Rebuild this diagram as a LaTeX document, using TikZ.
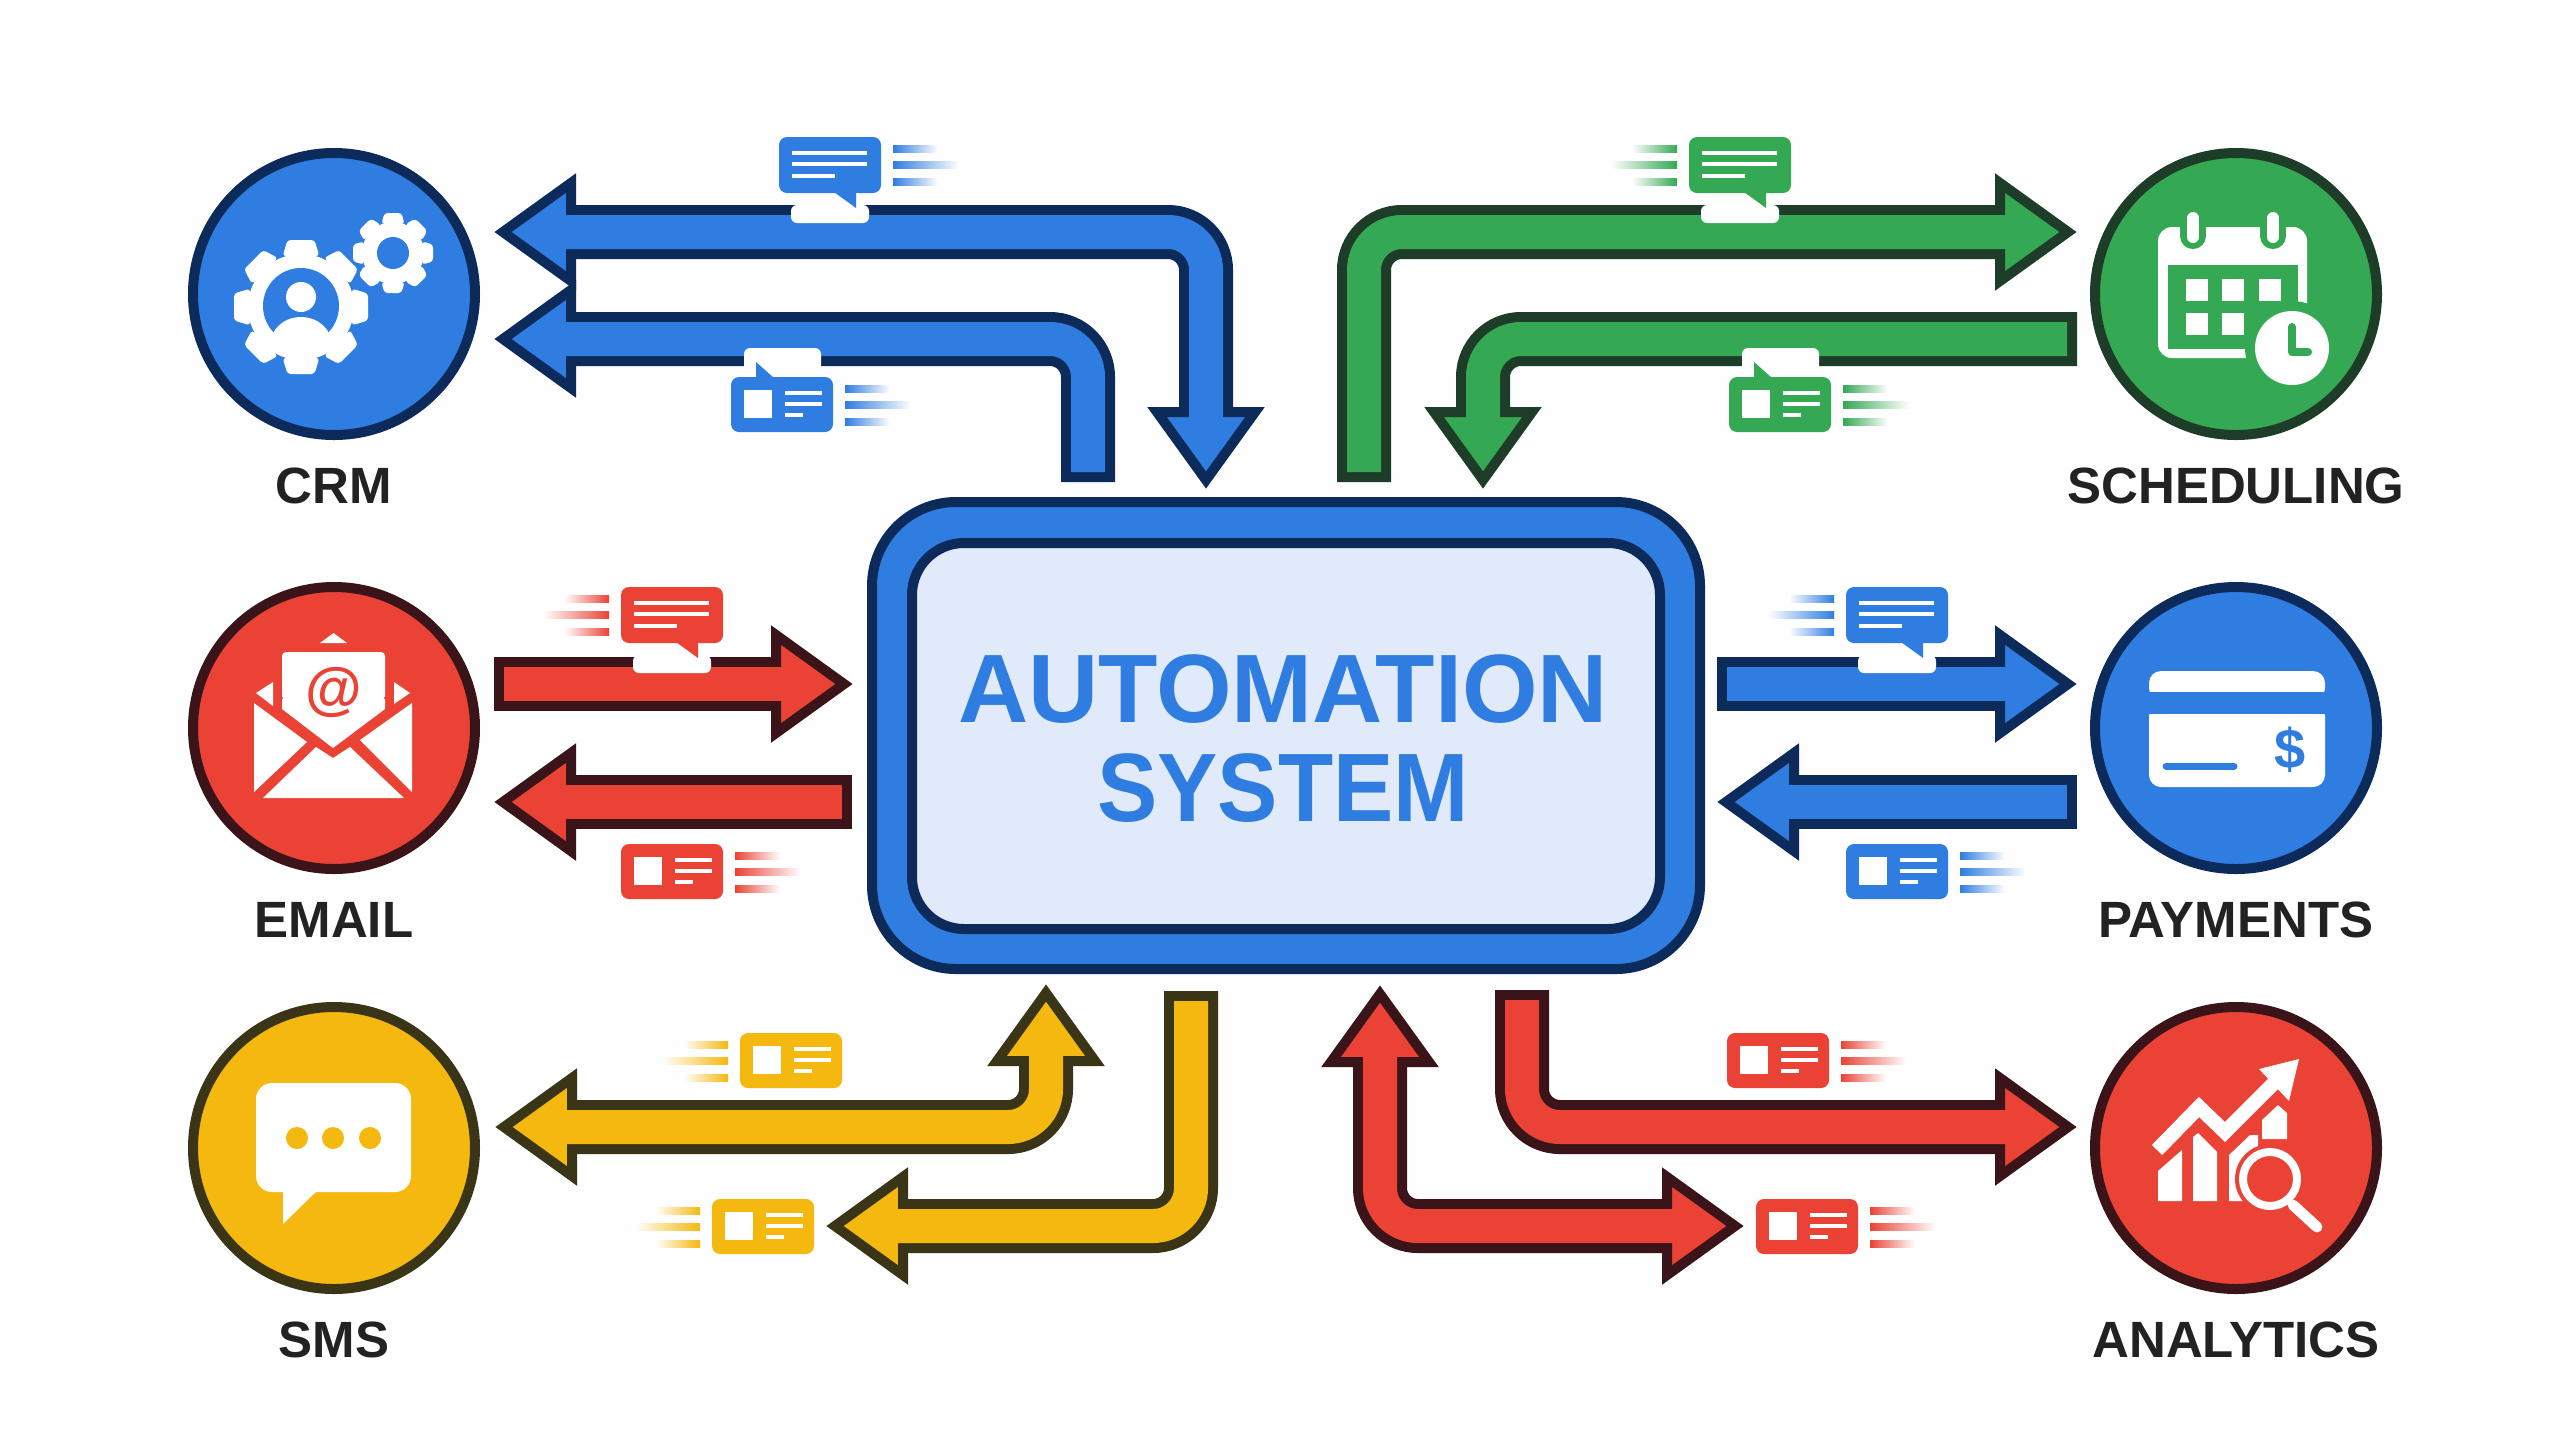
\documentclass[tikz,border=0pt]{standalone}
\usepackage{fontspec}
\setmainfont{Liberation Sans}
\usetikzlibrary{calc}
\definecolor{bgc}{HTML}{FEFEFE}
\definecolor{bF}{HTML}{2F7DE1}\definecolor{bD}{HTML}{0C2A5A}
\definecolor{gF}{HTML}{34A853}\definecolor{gD}{HTML}{1E3D28}
\definecolor{rF}{HTML}{EA4335}\definecolor{rD}{HTML}{3A1418}
\definecolor{yF}{HTML}{F5B80E}\definecolor{yD}{HTML}{3B3518}
\definecolor{lightF}{HTML}{E1EAFA}
\definecolor{ink}{HTML}{222222}
\tikzset{
  hub/.style={circle,minimum size=70.5pt,line width=2.5pt,inner sep=0pt},
  lab/.style={font=\fontsize{12.75pt}{14pt}\selectfont\bfseries,text=ink,inner sep=0pt,anchor=base},
}
% head: colour, tip coordinate, direction
\newcommand{\headd}[3]{\begin{scope}[shift={#2},rotate=#3]
  \filldraw[fill=#1F,draw=#1D,line width=2.5pt,miter limit=10] (0,0)--(-68,49)--(-68,-49)--cycle;
  \end{scope}}
\newcommand{\speedR}[4]{\shade[left color=#1F,right color=white] (#2,#3-3.5) rectangle (#2+#4,#3+3.5);}
\newcommand{\speedL}[4]{\shade[right color=#1F,left color=white] (#2-#4,#3-3.5) rectangle (#2,#3+3.5);}
\newcommand{\chatbody}[3]{\begin{scope}[shift={(#2,#3)}]
  \fill[white,rounded corners=1.5pt] (12,68) rectangle (90,86);
  \fill[#1F,rounded corners=2pt] (0,0) rectangle (102,56);
  \fill[#1F] (55,55)--(77,55)--(77,71)--cycle;
  \draw[white,line width=1.2pt] (13,16)--(88,16) (13,27)--(88,27) (13,39)--(56,39);
  \end{scope}}
\newcommand{\cardbody}[3]{\begin{scope}[shift={(#2,#3)}]
  \fill[#1F,rounded corners=2pt] (0,0) rectangle (102,55);
  \fill[white] (13,13) rectangle (41,41);
  \draw[white,line width=1.2pt] (54,16)--(91,16) (54,27)--(91,27) (54,38)--(72,38);
  \end{scope}}
\newcommand{\cardpatch}[3]{\begin{scope}[shift={(#2,#3)}]
  \fill[white,rounded corners=1.5pt] (13,-29) rectangle (90,2);
  \fill[#1F] (25,-15)--(43,1)--(25,1)--cycle;
  \end{scope}}
\newcommand{\spR}[3]{\begin{scope}[shift={(#2,#3)}]
  \speedR{#1}{114}{12}{45}\speedR{#1}{114}{28}{66}\speedR{#1}{114}{45}{45}\end{scope}}
\newcommand{\spL}[3]{\begin{scope}[shift={(#2,#3)}]
  \speedL{#1}{-12}{12}{45}\speedL{#1}{-12}{28}{66}\speedL{#1}{-12}{45}{45}\end{scope}}
\newcommand{\gearshape}[5]{\begin{scope}[shift={(#1,#2)}]
  \fill[white] (0,0) circle (#4);
  \foreach \a in {0,45,...,315}{\begin{scope}[rotate=\a]
    \fill[white,rounded corners=0.8pt] (-#5*0.5,-#3)--(#5*0.5,-#3)--(#5*0.68,-#4+2)--(-#5*0.68,-#4+2)--cycle;
  \end{scope}}
  \end{scope}}
\newcommand{\arrowA}[4]{% colour, dark path, heads, fill path
  \draw[#1D,line width=13.5pt,rounded corners=9.5pt] #2;
  #3
  \draw[#1F,line width=8.5pt,rounded corners=9.5pt] #4;
}
\begin{document}
\begin{tikzpicture}[x=0.25pt,y=-0.25pt]
\useasboundingbox (0,0) rectangle (2560,1448);
\fill[bgc] (0,0) rectangle (2560,1448);

% hubs
\node[hub,draw=bD,fill=bF] (crm) at (334,294) {};
\node[hub,draw=rD,fill=rF] (email) at (334,728) {};
\node[hub,draw=yD,fill=yF] (sms) at (334,1148) {};
\node[hub,draw=gD,fill=gF] (sched) at (2236,294) {};
\node[hub,draw=bD,fill=bF] (pay) at (2236,728) {};
\node[hub,draw=rD,fill=rF] (anal) at (2236,1148) {};
\node[lab] (crml) at (334,503) {CRM};
\node[lab] (emaill) at (334,937) {EMAIL};
\node[lab] (smsl) at (334,1357) {SMS};
\node[lab] (schedl) at (2236,503) {SCHEDULING};
\node[lab] (payl) at (2236,937) {PAYMENTS};
\node[lab] (anall) at (2236,1357) {ANALYTICS};

% central box
\node[draw=bD,fill=bF,line width=2.5pt,rounded corners=21pt,minimum width=207pt,minimum height=116.75pt,inner sep=0pt] (sys) at (1286,735.5) {};
\node[draw=bD,fill=lightF,line width=2.5pt,rounded corners=13pt,minimum width=187pt,minimum height=96.5pt,inner sep=0pt] (sysin) at (1286,736) {};
\node[font=\fontsize{24.3pt}{24.75pt}\selectfont\bfseries,text=bF,align=center,inner sep=0pt] (syst) at (1283,739) {AUTOMATION\\\scalebox{.93}[1]{SYSTEM}};

% arrow end coordinates (tips, elbows, tails)
\coordinate (a1L) at (503,232); \coordinate (a1C) at (1206,232); \coordinate (a1D) at (1206,480);
\coordinate (a2L) at (503,339); \coordinate (a2C) at (1088,339); \coordinate (a2T) at (1088,482);
\coordinate (a3T) at (1364,482); \coordinate (a3C) at (1364,232); \coordinate (a3R) at (2068,232);
\coordinate (a4T) at (2077,339); \coordinate (a4C) at (1483,339); \coordinate (a4D) at (1483,480);
\coordinate (a5T) at (494,684); \coordinate (a5R) at (844,684);
\coordinate (a6L) at (503,802); \coordinate (a6T) at (852,802);
\coordinate (a7T) at (1717,684); \coordinate (a7R) at (2068,684);
\coordinate (a8L) at (1726,802); \coordinate (a8T) at (2077,802);
\coordinate (a9L) at (504,1127); \coordinate (a9C) at (1046,1127); \coordinate (a9U) at (1046,993);
\coordinate (a10L) at (835,1226); \coordinate (a10C) at (1191,1226); \coordinate (a10T) at (1191,991);
\coordinate (a11R) at (1735,1226); \coordinate (a11C) at (1380,1226); \coordinate (a11U) at (1380,994);
\coordinate (a12T) at (1522,990); \coordinate (a12C) at (1522,1127); \coordinate (a12R) at (2068,1127);

% arrows
\arrowA{b}{($(a1L)+(60,0)$)--(a1C)--($(a1D)+(0,-60)$)}{\headd{b}{(a1L)}{180}\headd{b}{(a1D)}{-90}}{($(a1L)+(60,0)$)--(a1C)--($(a1D)+(0,-60)$)}
\arrowA{b}{($(a2L)+(60,0)$)--(a2C)--(a2T)}{\headd{b}{(a2L)}{180}}{($(a2L)+(60,0)$)--(a2C)--($(a2T)+(0,-10)$)}
\arrowA{g}{(a3T)--(a3C)--($(a3R)+(-60,0)$)}{\headd{g}{(a3R)}{0}}{($(a3T)+(0,-10)$)--(a3C)--($(a3R)+(-60,0)$)}
\arrowA{g}{(a4T)--(a4C)--($(a4D)+(0,-60)$)}{\headd{g}{(a4D)}{-90}}{($(a4T)+(-10,0)$)--(a4C)--($(a4D)+(0,-60)$)}
\arrowA{r}{(a5T)--($(a5R)+(-60,0)$)}{\headd{r}{(a5R)}{0}}{($(a5T)+(10,0)$)--($(a5R)+(-60,0)$)}
\arrowA{r}{(a6T)--($(a6L)+(60,0)$)}{\headd{r}{(a6L)}{180}}{($(a6T)+(-10,0)$)--($(a6L)+(60,0)$)}
\arrowA{b}{(a7T)--($(a7R)+(-60,0)$)}{\headd{b}{(a7R)}{0}}{($(a7T)+(10,0)$)--($(a7R)+(-60,0)$)}
\arrowA{b}{(a8T)--($(a8L)+(60,0)$)}{\headd{b}{(a8L)}{180}}{($(a8T)+(-10,0)$)--($(a8L)+(60,0)$)}
\arrowA{y}{($(a9L)+(60,0)$)--(a9C)--($(a9U)+(0,60)$)}{\headd{y}{(a9L)}{180}\headd{y}{(a9U)}{90}}{($(a9L)+(60,0)$)--(a9C)--($(a9U)+(0,60)$)}
\arrowA{y}{(a10T)--(a10C)--($(a10L)+(60,0)$)}{\headd{y}{(a10L)}{180}}{($(a10T)+(0,10)$)--(a10C)--($(a10L)+(60,0)$)}
\arrowA{r}{($(a11R)+(-60,0)$)--(a11C)--($(a11U)+(0,60)$)}{\headd{r}{(a11R)}{0}\headd{r}{(a11U)}{90}}{($(a11R)+(-60,0)$)--(a11C)--($(a11U)+(0,60)$)}
\arrowA{r}{(a12T)--(a12C)--($(a12R)+(-60,0)$)}{\headd{r}{(a12R)}{0}}{($(a12T)+(0,10)$)--(a12C)--($(a12R)+(-60,0)$)}

% message icons
\chatbody{b}{779}{137}\spR{b}{779}{137}
\cardpatch{b}{731}{377}\cardbody{b}{731}{377}\spR{b}{731}{377}
\chatbody{g}{1689}{137}\spL{g}{1689}{137}
\cardpatch{g}{1729}{377}\cardbody{g}{1729}{377}\spR{g}{1729}{377}
\chatbody{r}{621}{587}\spL{r}{621}{587}
\cardbody{r}{621}{844}\spR{r}{621}{844}
\chatbody{b}{1846}{587}\spL{b}{1846}{587}
\cardbody{b}{1846}{844}\spR{b}{1846}{844}
\cardbody{y}{740}{1033}\spL{y}{740}{1033}
\cardbody{y}{712}{1199}\spL{y}{712}{1199}
\cardbody{r}{1727}{1033}\spR{r}{1727}{1033}
\cardbody{r}{1756}{1199}\spR{r}{1756}{1199}

% CRM glyph: gears and person
\gearshape{301}{307}{67}{53}{27}
\fill[bF] (301,306) circle (38);
\fill[white] (301,297) circle (15);
\begin{scope}
  \clip (301,306) circle (39);
  \fill[white] (301,345) ellipse (31 and 28);
\end{scope}
\gearshape{393}{253}{40}{31}{17}
\fill[bF] (393,253) circle (16);

% Email glyph
\fill[white,rounded corners=1pt] (282,652) rectangle (385,700);
\fill[white] (282,699)--(385,699)--(385,709)--(333,748)--(282,709)--cycle;
\fill[white] (320,643)--(333.5,633)--(347,643)--cycle;
\fill[white] (273,682)--(256,693)--(273,706)--cycle;
\fill[white] (394,682)--(410,693)--(394,704)--cycle;
\fill[white] (254,703)--(307,742)--(254,792)--cycle;
\fill[white] (412,703)--(360,740)--(412,792)--cycle;
\fill[white] (263,798)--(316,747)--(333,758)--(350,747)--(404,798)--cycle;
\node[font=\fontsize{14.5pt}{16pt}\selectfont\bfseries,text=rF,inner sep=0pt] (atsign) at (333.5,692) {@};

% SMS glyph
\fill[white,rounded corners=4pt] (256,1083) rectangle (411,1192);
\fill[white] (283,1185)--(283,1224)--(323,1185)--cycle;
\fill[yF] (297,1138) circle (11) (333,1138) circle (11) (370,1138) circle (11);

% Payment glyph
\fill[white,rounded corners=3pt] (2149,671) rectangle (2325,700);
\fill[bF] (2145,692) rectangle (2330,705);
\fill[white,rounded corners=3pt] (2149,704) rectangle (2325,787);
\fill[bF] (2145,704) rectangle (2330,714);
\draw[bF,line width=1.75pt,line cap=round] (2166,766)--(2234,766);
\node[font=\fontsize{14pt}{14pt}\selectfont\bfseries,text=bF,inner sep=0pt] (dollar) at (2290,750) {\$};

% Calendar glyph
\fill[white,rounded corners=3.5pt] (2158,227) rectangle (2307,358);
\fill[gF] (2168,265) rectangle (2298,349);
\foreach \xx in {2193,2273}{
  \draw[gF,line width=6.5pt,line cap=round] (\xx,200)--(\xx,236);
  \draw[white,line width=3pt,line cap=round] (\xx,218)--(\xx,237);
}
\foreach \xx/\yy in {2186/279,2222/279,2259/279,2186/313,2222/313}{\fill[white] (\xx,\yy) rectangle (\xx+22,\yy+22);}
\fill[gF] (2292,348) circle (47);
\fill[white] (2292,348) circle (37);
\draw[gF,line width=2pt,line cap=round,line join=round] (2292,327)--(2292,352)--(2308,352);

% Analytics glyph
\fill[white] (2158,1201)--(2158,1171)--(2182,1150)--(2182,1201)--cycle;
\fill[white] (2193,1201)--(2193,1137)--(2198,1133)--(2217,1152)--(2217,1201)--cycle;
\fill[white] (2229,1201)--(2229,1155)--(2250,1135)--(2258,1135)--(2258,1201)--cycle;
\fill[white] (2262,1139)--(2262,1120)--(2278,1105)--(2287,1113)--(2287,1139)--cycle;
\draw[white,line width=3.6pt,miter limit=10] (2157,1150)--(2199,1107)--(2225,1132)--(2279,1078);
\fill[white] (2299,1059)--(2259,1069)--(2289,1101)--cycle;
\fill[rF] (2270,1179) circle (35);
\draw[white,line width=2pt] (2270,1179) circle (27);
\draw[white,line width=2.7pt,line cap=round] (2293,1205)--(2317,1227);
\end{tikzpicture}
\end{document}
